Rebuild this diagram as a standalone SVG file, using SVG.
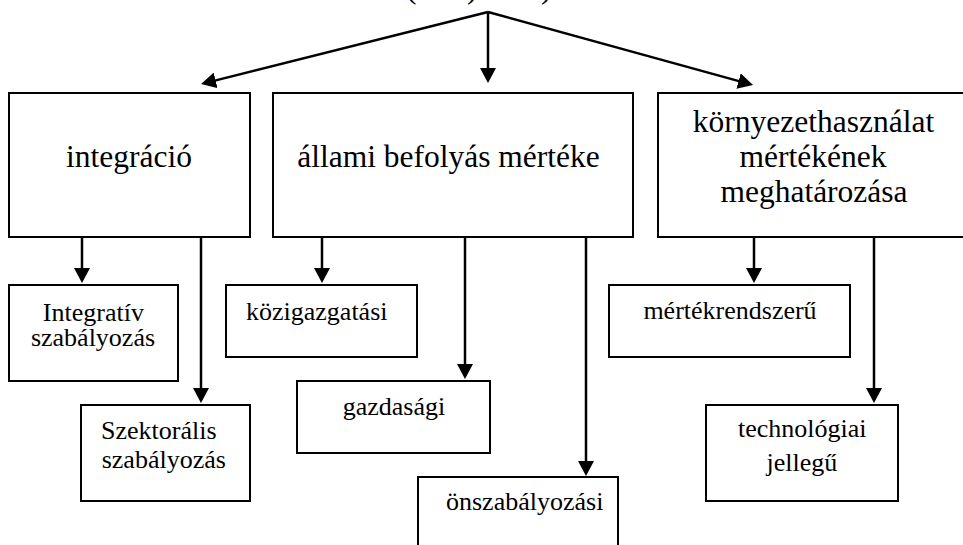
<svg xmlns="http://www.w3.org/2000/svg" width="963" height="545" viewBox="0 0 963 545">
  <defs>
    <marker id="head" viewBox="0 0 15 16" refX="7" refY="8" markerWidth="15" markerHeight="16" markerUnits="userSpaceOnUse" orient="auto">
      <path d="M0,0 L15,8 L0,16 Z" fill="#000000" stroke="none"/>
    </marker>
  </defs>

  <rect width="963" height="545" fill="#ffffff"/>

  <!-- heading line, mostly above the visible area -->
  <g id="heading" font-family="Liberation Serif" font-size="31.5" fill="#000000">
    <text x="406" y="-2">(</text>
    <text x="467" y="-2">)</text>
    <text x="541" y="-2">)</text>
  </g>

  <!-- connectors: shared stroke and arrowhead set on the group -->
  <g id="connectors" fill="none" stroke="#000000" stroke-width="2.5" marker-end="url(#head)">
    <path d="M488,12 L208.8,82.1"/>
    <path d="M488,12 L488,75"/>
    <path d="M488,12 L745.3,82.9"/>

    <path d="M82,237 L82,275"/>
    <path d="M201,237 L201,395"/>

    <path d="M322,237 L322,275"/>
    <path d="M465,237 L465,371"/>
    <path d="M586,237 L586,468"/>

    <path d="M754,237 L754,275"/>
    <path d="M874,237 L874,395"/>
  </g>

  <!-- nodes: boxes share fill/stroke, labels share the font -->
  <g id="nodes" fill="#ffffff" stroke="#000000" stroke-width="2" font-family="Liberation Serif">
    <!-- top level -->
    <g id="integracio">
      <rect x="9" y="93" width="241" height="144"/>
      <text x="129" y="167" font-size="31.5" text-anchor="middle" fill="#000000" stroke="none">integráció</text>
    </g>

    <g id="allami-befolyas">
      <rect x="273" y="93" width="360" height="144"/>
      <text x="448.5" y="167" font-size="31.5" text-anchor="middle" fill="#000000" stroke="none">állami befolyás mértéke</text>
    </g>

    <g id="kornyezethasznalat">
      <rect x="658" y="93" width="311" height="144"/>
      <g font-size="31.5" text-anchor="middle" fill="#000000" stroke="none">
        <text x="813.5" y="132">környezethasználat</text>
        <text x="813" y="167">mértékének</text>
        <text x="814" y="202">meghatározása</text>
      </g>
    </g>

    <!-- second level -->
    <g id="integrativ">
      <rect x="9" y="285" width="169" height="96"/>
      <g font-size="26" text-anchor="middle" fill="#000000" stroke="none">
        <text x="93.4" y="320.5">Integratív</text>
        <text x="93" y="346">szabályozás</text>
      </g>
    </g>

    <g id="szektoralis">
      <rect x="81" y="405" width="169" height="96"/>
      <g font-size="26" fill="#000000" stroke="none">
        <text x="101" y="438.5">Szektorális</text>
        <text x="101.7" y="468">szabályozás</text>
      </g>
    </g>

    <g id="kozigazgatasi">
      <rect x="226" y="285" width="191" height="72"/>
      <text x="246" y="319.5" font-size="26" fill="#000000" stroke="none">közigazgatási</text>
    </g>

    <g id="gazdasagi">
      <rect x="297" y="381" width="193" height="72"/>
      <text x="394" y="415" font-size="26" text-anchor="middle" fill="#000000" stroke="none">gazdasági</text>
    </g>

    <g id="onszabalyozasi">
      <rect x="418" y="477" width="200" height="80"/>
      <text x="446" y="510" font-size="26" fill="#000000" stroke="none">önszabályozási</text>
    </g>

    <g id="mertekrendszeru">
      <rect x="609" y="285" width="241" height="72"/>
      <text x="730" y="318.5" font-size="26" text-anchor="middle" fill="#000000" stroke="none">mértékrendszerű</text>
    </g>

    <g id="technologiai">
      <rect x="706" y="405" width="192" height="96"/>
      <g font-size="26" text-anchor="middle" fill="#000000" stroke="none">
        <text x="802.3" y="437">technológiai</text>
        <text x="802" y="471">jellegű</text>
      </g>
    </g>
  </g>
</svg>
